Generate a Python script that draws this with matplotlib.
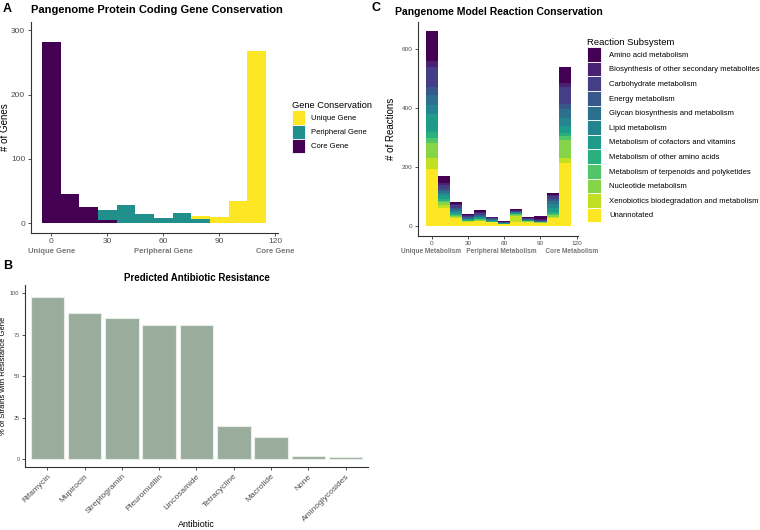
import numpy as np
import matplotlib
matplotlib.use("Agg")
import matplotlib.pyplot as plt
from matplotlib.patches import Patch
from matplotlib.transforms import blended_transform_factory

plt.rcParams['font.family'] = ['Liberation Sans', 'DejaVu Sans']

# ---- panel A data: genes per conservation bin (bin centre = # strains)
gene_bins = [0, 10, 20, 30, 40, 50, 60, 70, 80, 90, 100, 110]
core_gene = [282, 45, 26, 5, 0, 0, 0, 0, 0, 0, 0, 0]
peripheral_gene = [0, 0, 0, 15, 29, 14, 8, 16, 7, 0, 0, 0]
unique_gene = [0, 0, 0, 0, 0, 0, 0, 0, 5, 10, 35, 267]
gene_labels = ["Unique Gene", "Peripheral Gene", "Core Gene"]

# ---- panel B data
antibiotics = ["Rifamycin", "Mupirocin", "Streptogramin", "Pleuromutilin", "Lincosamide",
               "Tetracycline", "Macrolide", "None", "Aminoglycosides"]
pct_strains = [98, 88, 85, 81, 81, 20, 13, 2, 1.2]

# ---- panel C data: reactions per bin, by subsystem
rxn_bins = [0, 10, 20, 30, 40, 50, 60, 70, 80, 90, 100, 110]
subsystems = ["Amino acid metabolism", "Biosynthesis of other secondary metabolites",
              "Carbohydrate metabolism", "Energy metabolism",
              "Glycan biosynthesis and metabolism", "Lipid metabolism",
              "Metabolism of cofactors and vitamins", "Metabolism of other amino acids",
              "Metabolism of terpenoids and polyketides", "Nucleotide metabolism",
              "Xenobiotics biodegradation and metabolism", "Unannotated"]
amino_acid = [100, 22, 8, 4, 6, 3, 1, 3, 3, 10, 8, 55]
biosynthesis = [20, 7, 3, 3, 3, 2, 1, 2, 2, 3, 4, 13]
carbohydrate = [70, 14, 10, 4, 6, 3, 2, 3, 3, 3, 10, 58]
energy = [25, 6, 5, 2, 3, 2, 1, 1, 2, 1, 5, 17]
glycan = [35, 6, 5, 2, 3, 2, 1, 1, 1, 1, 12, 29]
lipid = [30, 7, 5, 3, 3, 2, 1, 2, 1, 1, 13, 30]
cofactors = [60, 14, 8, 3, 5, 2, 1, 2, 1, 1, 12, 21]
other_amino = [20, 7, 3, 1, 2, 1, 0, 2, 1, 0, 6, 13]
terpenoids = [20, 5, 2, 1, 2, 1, 0, 2, 1, 1, 5, 12]
nucleotide = [50, 8, 2, 1, 2, 1, 1, 3, 1, 1, 6, 60]
xenobiotics = [37, 12, 4, 1, 2, 1, 1, 20, 1, 1, 4, 17]
unannotated = [193, 60, 28, 15, 16, 12, 6, 15, 14, 10, 27, 215]
rxn_counts = [amino_acid, biosynthesis, carbohydrate, energy, glycan, lipid, cofactors,
              other_amino, terpenoids, nucleotide, xenobiotics, unannotated]

fig = plt.figure(figsize=(7.6, 5.3), dpi=100)
grey = "#4d4d4d"


def classic(ax, tsize):
    for s in ["top", "right"]:
        ax.spines[s].set_visible(False)
    for s in ["left", "bottom"]:
        ax.spines[s].set_color("#333333")
        ax.spines[s].set_linewidth(0.8)
    ax.tick_params(length=2.5, width=0.6, color="#333333", labelcolor=grey,
                   labelsize=tsize, pad=1.5)


# ===== A =====
axA = fig.add_axes([0.0404, 0.561, 0.3254, 0.398])
vir3 = ["#FDE725", "#21908C", "#440154"]
bottom = np.zeros(len(gene_bins))
for vals, col in zip([core_gene, peripheral_gene, unique_gene], vir3[::-1]):
    axA.bar(gene_bins, vals, width=10, bottom=bottom, color=col, linewidth=0)
    bottom += np.array(vals)
axA.set_xlim(-11, 121.5)
axA.set_ylim(-14.5, 313)
axA.set_xticks([0, 30, 60, 90, 120])
axA.set_yticks([0, 100, 200, 300])
classic(axA, 6)
axA.set_ylabel("# of Genes", fontsize=7)
axA.yaxis.set_label_coords(-0.085, 0.5)
trA = blended_transform_factory(axA.transData, axA.transAxes)
for xv, lab in zip([0, 60, 120], gene_labels):
    axA.text(xv, -0.072, lab, transform=trA, ha="center", va="top", fontsize=5.5,
             fontweight="bold", color="#777777")
axA.set_title("Pangenome Protein Coding Gene Conservation", fontsize=8, fontweight="bold",
              loc="left", x=-0.0, pad=6)
fig.legend(handles=[Patch(facecolor=c, edgecolor="white", linewidth=0.6) for c in vir3],
           labels=gene_labels,
           title="Gene Conservation", loc="upper left", bbox_to_anchor=(0.379, 0.816),
           frameon=False, fontsize=5.5, title_fontsize=6.7, handlelength=1.75,
           handleheight=2.5, labelspacing=0.0, handletextpad=0.8, borderpad=0.0,
           alignment="left")

# ===== B =====
axB = fig.add_axes([0.0329, 0.1183, 0.4513, 0.344])
xpos = np.arange(len(antibiotics))
axB.bar(xpos, pct_strains, width=0.9, color="#9aad9c", edgecolor="#e8ede8", linewidth=0.8)
axB.set_xlim(-0.6, len(antibiotics) - 0.4)
axB.set_ylim(-5, 105)
axB.set_yticks([0, 25, 50, 75, 100])
axB.set_xticks(xpos)
axB.set_xticklabels(antibiotics, rotation=45, ha="right", rotation_mode="anchor")
classic(axB, 4)
axB.tick_params(axis="x", labelsize=6)
axB.set_ylabel("% of Strains with Resistance Gene", fontsize=5.5)
axB.yaxis.set_label_coords(-0.052, 0.5)
axB.set_xlabel("Antibiotic", fontsize=6.5)
axB.xaxis.set_label_coords(0.5, -0.29)
axB.set_title("Predicted Antibiotic Resistance", fontsize=7, fontweight="bold", pad=3)

# ===== C =====
axC = fig.add_axes([0.5504, 0.5553, 0.2101, 0.4037])
vir12 = plt.cm.viridis(np.linspace(0, 1, 12))
bottom = np.zeros(len(rxn_bins))
for i in range(len(subsystems) - 1, -1, -1):
    axC.bar(rxn_bins, rxn_counts[i], width=10, bottom=bottom, color=vir12[i], linewidth=0)
    bottom += np.array(rxn_counts[i])
axC.set_xlim(-11, 121)
axC.set_ylim(-33, 693)
axC.set_xticks([0, 30, 60, 90, 120])
axC.set_yticks([0, 200, 400, 600])
classic(axC, 4.6)
axC.tick_params(axis="x", pad=1)
axC.set_ylabel("# of Reactions", fontsize=7)
axC.yaxis.set_label_coords(-0.14, 0.5)
axC.set_xlabel("Unique Metabolism   Peripheral Metabolism     Core Metabolism",
               fontsize=4.7, fontweight="bold", color="#777777")
axC.xaxis.set_label_coords(0.51, -0.058)
axC.set_title("Pangenome Model Reaction Conservation", fontsize=7.5, fontweight="bold",
              loc="left", x=-0.144, pad=5)
fig.legend(handles=[Patch(facecolor=c, edgecolor="white", linewidth=0.6) for c in vir12],
           labels=subsystems,
           title="Reaction Subsystem", loc="upper left", bbox_to_anchor=(0.768, 0.935),
           frameon=False, fontsize=5.5, title_fontsize=6.8, handlelength=1.8,
           handleheight=2.56, labelspacing=0.0, handletextpad=1.0, borderpad=0.0,
           alignment="left")

# panel letters
fig.text(0.004, 0.995, "A", fontsize=9, fontweight="bold", va="top")
fig.text(0.004, 0.51, "B", fontsize=9, fontweight="bold", va="top")
fig.text(0.489, 0.997, "C", fontsize=9, fontweight="bold", va="top")

fig.savefig("out.png", dpi=100)
